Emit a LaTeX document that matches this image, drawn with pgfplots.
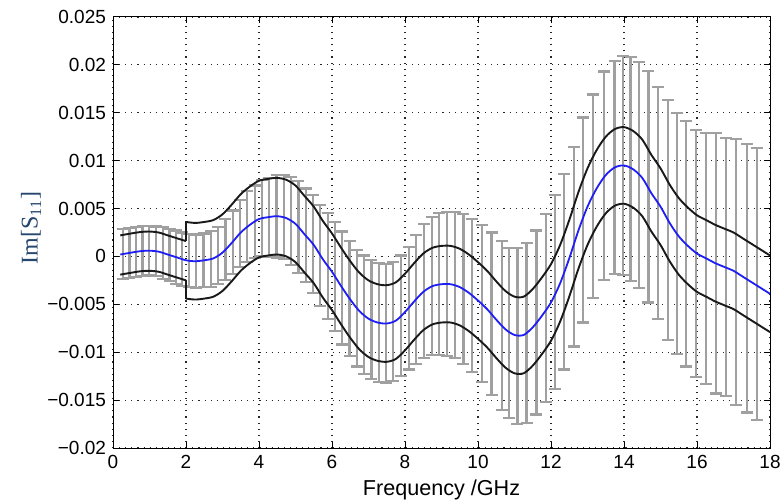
\documentclass[border=0pt]{standalone}
\usepackage{pgfplots}
\pgfplotsset{compat=1.18}
\usepackage{pgfplotstable}
\usepackage{fontspec}
\setmainfont{Liberation Sans}
\newfontfamily\labelserif{Liberation Serif}

\definecolor{meanblue}{RGB}{30,30,245}
\definecolor{bargray}{RGB}{160,160,160}
\definecolor{labelblue}{RGB}{38,70,110}

% mean of Im[S11]
\pgfplotstableread{
f m
0.2 0.0002
0.5 0.0004
0.75 0.00055
1.0 0.0006
1.25 0.0005
1.5 0.0002
1.75 -0.0001
2.0 -0.0004
2.25 -0.0005
2.5 -0.0004
2.75 -0.0002
3.0 0.0004
3.25 0.0014
3.5 0.0025
3.75 0.0033
4.0 0.0039
4.25 0.0041
4.5 0.0042
4.75 0.0040
5.0 0.0034
5.25 0.0023
5.5 0.0012
5.75 -0.0003
6.0 -0.0016
6.25 -0.0031
6.5 -0.0045
6.75 -0.0057
7.0 -0.0065
7.25 -0.0069
7.5 -0.0070
7.75 -0.0067
8.0 -0.0058
8.25 -0.0047
8.5 -0.0037
8.75 -0.0031
9.0 -0.0029
9.25 -0.0029
9.5 -0.0032
9.75 -0.0038
10.0 -0.0046
10.25 -0.0055
10.5 -0.0066
10.75 -0.0076
11.0 -0.0082
11.25 -0.0082
11.5 -0.0074
11.75 -0.0062
12.0 -0.0048
12.25 -0.0028
12.5 -0.0002
12.75 0.0027
13.0 0.0052
13.25 0.0071
13.5 0.0085
13.75 0.0093
14.0 0.0095
14.25 0.0091
14.5 0.0082
14.75 0.0066
15.0 0.0052
15.25 0.0035
15.5 0.0021
15.75 0.0011
16.0 0.0003
16.25 -0.0002
16.5 -0.0007
16.75 -0.0011
17.0 -0.0015
17.25 -0.0021
17.5 -0.0027
17.75 -0.0033
18.0 -0.0039
}\meandata

% confidence band below 2 GHz
\pgfplotstableread{
f up lo
0.2 0.0022 -0.0019
0.5 0.0024 -0.0017
0.75 0.00255 -0.00155
1.0 0.0026 -0.0015
1.25 0.0025 -0.0016
1.5 0.0022 -0.0019
1.75 0.0019 -0.0022
2.0 0.0016 -0.0025
}\bandlow

% confidence band above 2 GHz
\pgfplotstableread{
f up lo
2.0 0.0036 -0.0044
2.25 0.0035 -0.0045
2.5 0.0036 -0.0044
2.75 0.0038 -0.0042
3.0 0.0044 -0.0036
3.25 0.0054 -0.0026
3.5 0.0065 -0.0015
3.75 0.0073 -0.0007
4.0 0.0079 -0.0001
4.25 0.0081 0.0001
4.5 0.0082 0.0002
4.75 0.0080 0.0000
5.0 0.0074 -0.0006
5.25 0.0063 -0.0017
5.5 0.0052 -0.0028
5.75 0.0037 -0.0043
6.0 0.0024 -0.0056
6.25 0.0009 -0.0071
6.5 -0.0005 -0.0085
6.75 -0.0017 -0.0097
7.0 -0.0025 -0.0105
7.25 -0.0029 -0.0109
7.5 -0.0030 -0.0110
7.75 -0.0027 -0.0107
8.0 -0.0018 -0.0098
8.25 -0.0007 -0.0087
8.5 0.0003 -0.0077
8.75 0.0009 -0.0071
9.0 0.0011 -0.0069
9.25 0.0011 -0.0069
9.5 0.0008 -0.0072
9.75 0.0002 -0.0078
10.0 -0.0006 -0.0086
10.25 -0.0015 -0.0095
10.5 -0.0026 -0.0106
10.75 -0.0036 -0.0116
11.0 -0.0042 -0.0122
11.25 -0.0042 -0.0122
11.5 -0.0034 -0.0114
11.75 -0.0022 -0.0102
12.0 -0.0008 -0.0088
12.25 0.0012 -0.0068
12.5 0.0038 -0.0042
12.75 0.0067 -0.0013
13.0 0.0092 0.0012
13.25 0.0111 0.0031
13.5 0.0125 0.0045
13.75 0.0133 0.0053
14.0 0.0135 0.0055
14.25 0.0131 0.0051
14.5 0.0122 0.0042
14.75 0.0106 0.0026
15.0 0.0092 0.0012
15.25 0.0075 -0.0005
15.5 0.0061 -0.0019
15.75 0.0051 -0.0029
16.0 0.0043 -0.0037
16.25 0.0038 -0.0042
16.5 0.0033 -0.0047
16.75 0.0029 -0.0051
17.0 0.0025 -0.0055
17.25 0.0019 -0.0061
17.5 0.0013 -0.0067
17.75 0.0007 -0.0073
18.0 0.0001 -0.0079
}\bandhigh

% measured spread: centre c and half-range e
\pgfplotstableread{
f c e
0.27 0.00025 0.0026
0.45 0.00036 0.0026
0.63 0.00048 0.0026
0.81 0.00057 0.0026
0.99 0.0006 0.0026
1.17 0.00053 0.0026
1.36 0.00037 0.0027
1.55 0.00015 0.0027
1.73 -0.0001 0.0028
1.9 -0.0003 0.0028
2.08 -0.00043 0.0028
2.28 -0.0005 0.0028
2.48 -0.0004 0.0028
2.68 -0.00025 0.0029
2.88 0.0001 0.0030
3.08 0.0007 0.0032
3.28 0.0015 0.0033
3.48 0.0024 0.0035
3.68 0.0031 0.0037
3.88 0.0036 0.0038
4.08 0.0040 0.0040
4.28 0.0041 0.0041
4.48 0.0042 0.0043
4.68 0.0041 0.0044
4.88 0.0037 0.0046
5.08 0.0031 0.0048
5.28 0.0022 0.0049
5.48 0.0013 0.0051
5.68 0.0001 0.0053
5.88 -0.0010 0.0055
6.08 -0.0021 0.0057
6.28 -0.0033 0.0059
6.48 -0.0044 0.0060
6.68 -0.0054 0.0061
6.88 -0.0061 0.0062
7.08 -0.0066 0.0062
7.28 -0.0069 0.0062
7.48 -0.0070 0.0062
7.68 -0.0068 0.0062
7.88 -0.0062 0.0063
8.1 -0.0054 0.0064
8.31 -0.0045 0.0067
8.52 -0.0036 0.0070
8.73 -0.0031 0.0072
8.94 -0.0029 0.0074
9.16 -0.0029 0.0075
9.38 -0.0030 0.0076
9.6 -0.0034 0.0078
9.84 -0.0041 0.0080
10.1 -0.0049 0.0082
10.37 -0.0060 0.0085
10.65 -0.0072 0.0088
10.86 -0.0080 0.0089
11.08 -0.0083 0.0092
11.33 -0.0080 0.0094
11.6 -0.0069 0.0096
11.86 -0.0054 0.0098
12.1 -0.0037 0.0101
12.36 -0.0016 0.0102
12.62 0.0010 0.0104
12.87 0.0038 0.0107
13.15 0.0063 0.0106
13.45 0.0084 0.0109
13.74 0.0093 0.0111
13.97 0.0095 0.0114
14.18 0.0091 0.0117
14.41 0.0085 0.0118
14.67 0.0073 0.0121
14.94 0.0056 0.0121
15.21 0.0038 0.0125
15.45 0.0024 0.0126
15.7 0.0013 0.0128
15.98 0.0003 0.0129
16.24 -0.0002 0.0131
16.51 -0.0007 0.0136
16.79 -0.0011 0.0135
17.07 -0.0016 0.0139
17.37 -0.0023 0.0140
17.65 -0.0029 0.0142
}\bardata

\begin{document}
\begin{tikzpicture}
\useasboundingbox (-56.5pt,-27pt) rectangle (333.5pt,224pt);
\begin{axis}[
  at={(0pt,0pt)}, anchor=south west,
  scale only axis, width=328.5pt, height=215.5pt,
  xmin=0, xmax=18, ymin=-0.02, ymax=0.025,
  xtick={0,2,4,6,8,10,12,14,16,18},
  xticklabels={0,2,4,6,8,10,12,14,16,18},
  ytick={-0.02,-0.015,-0.01,-0.005,0,0.005,0.01,0.015,0.02,0.025},
  yticklabels={−0.02,−0.015,−0.01,−0.005,0,0.005,0.01,0.015,0.02,0.025},
  scaled y ticks=false,
  tick align=inside, major tick length=3pt,
  tick style={black, line width=0.5pt},
  axis line style={black, line width=0.5pt},
  grid=major, grid style={black!85, line width=0.55pt, dash pattern=on 0.55pt off 2.5pt},
  ticklabel style={font=\fontsize{9.5}{11}\selectfont},
  xlabel={Frequency /GHz},
  xlabel style={font=\fontsize{10.8}{12}\selectfont, at={(axis description cs:0.5,-0.0974)}, anchor=center},
  ylabel={\labelserif\fontsize{12}{14}\selectfont Im[S\textsubscript{11}]},
  ylabel style={text=labelblue, at={(axis description cs:-0.1248,0.51)}, anchor=center},
]
\addplot[draw=none, mark=none, forget plot,
  error bars/.cd, y dir=both, y explicit,
  error bar style={draw=bargray, line width=1.1pt},
  error mark options={rotate=90, draw=bargray, line width=1.1pt, mark size=3pt}]
  table[x=f, y=c, y error=e] {\bardata};
\addplot[black!90, line width=0.95pt, smooth] table[x=f, y=up] {\bandlow};
\addplot[black!90, line width=0.95pt, smooth] table[x=f, y=lo] {\bandlow};
\addplot[black!90, line width=0.95pt, smooth] table[x=f, y=up] {\bandhigh};
\addplot[black!90, line width=0.95pt, smooth] table[x=f, y=lo] {\bandhigh};
\addplot[black!90, line width=0.95pt] coordinates {(2,0.0016) (2,0.0036)};
\addplot[black!90, line width=0.95pt] coordinates {(2,-0.0025) (2,-0.0044)};
\addplot[meanblue, line width=0.9pt, smooth] table[x=f, y=m] {\meandata};
\end{axis}
\end{tikzpicture}
\end{document}
